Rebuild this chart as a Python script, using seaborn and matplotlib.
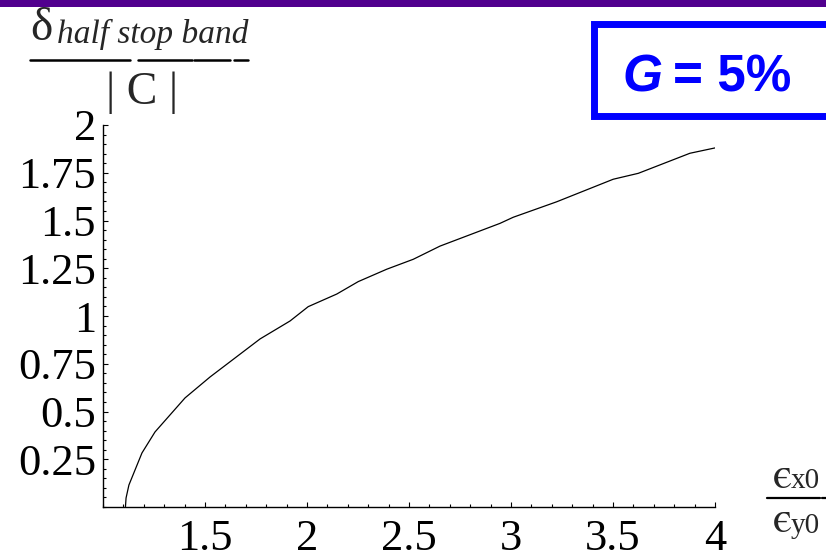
import matplotlib
matplotlib.use("Agg")
import matplotlib.pyplot as plt
from matplotlib.lines import Line2D
from matplotlib.patches import Rectangle
from matplotlib.ticker import FixedLocator, MultipleLocator
import seaborn as sns
import pandas as pd

# emittance ratio vs. normalised half stop band width (G = 5%)
ratio = [1.110, 1.113, 1.127, 1.191, 1.255, 1.402, 1.525, 1.770, 1.917, 2.006,
         2.146, 2.251, 2.391, 2.521, 2.652, 2.783, 2.946, 3.011, 3.224, 3.501,
         3.624, 3.877, 4.000]
half_band = [0.000, 0.047, 0.115, 0.283, 0.393, 0.571, 0.681, 0.880, 0.974, 1.049,
             1.115, 1.180, 1.245, 1.297, 1.366, 1.419, 1.485, 1.517, 1.598, 1.716,
             1.747, 1.852, 1.880]

x_ticks = [1.5, 2, 2.5, 3, 3.5, 4]
x_tick_labels = ["1.5", "2", "2.5", "3", "3.5", "4"]
y_ticks = [0.25, 0.5, 0.75, 1, 1.25, 1.5, 1.75, 2]
y_tick_labels = ["0.25", "0.5", "0.75", "1", "1.25", "1.5", "1.75", "2"]

df = pd.DataFrame({"ratio": ratio, "half_band": half_band})

sns.set_theme(style="ticks")
plt.rcParams["font.family"] = ["Liberation Serif", "STIXGeneral", "DejaVu Serif"]
plt.rcParams["mathtext.fontset"] = "stix"

W, H = 826, 559
fig = plt.figure(figsize=(W / 100, H / 100), dpi=100)


def px(x, y):
    # pixel position (from top-left) -> figure fraction
    return x / W, 1 - y / H


ax = fig.add_axes([103 / W, 52 / H, 612 / W, 382 / H])
sns.lineplot(data=df, x="ratio", y="half_band", ax=ax, color="black",
             linewidth=0.9, estimator=None, sort=False)

ax.set_xlim(1, 4)
ax.set_ylim(0, 2)
ax.set_xlabel("")
ax.set_ylabel("")
ax.xaxis.set_major_locator(FixedLocator(x_ticks))
ax.set_xticklabels(x_tick_labels)
ax.yaxis.set_major_locator(FixedLocator(y_ticks))
ax.set_yticklabels(y_tick_labels)
ax.xaxis.set_minor_locator(MultipleLocator(0.1))
ax.yaxis.set_minor_locator(MultipleLocator(0.05))

for s in ["top", "right"]:
    ax.spines[s].set_visible(False)
for s in ["left", "bottom"]:
    ax.spines[s].set_linewidth(1.0)
    ax.spines[s].set_color("black")

ax.tick_params(axis="both", which="both", direction="in", width=0.8,
               colors="black", labelsize=32)
ax.tick_params(axis="both", which="major", length=3.5)
ax.tick_params(axis="both", which="minor", length=2.5)
ax.tick_params(axis="x", which="major", pad=8.5)
ax.tick_params(axis="y", which="major", pad=5)
ax.set_facecolor("white")

# purple band along the top
fig.patches.append(Rectangle(px(0, 7), 1, 7 / H, transform=fig.transFigure,
                             facecolor="#51008e", edgecolor="none", zorder=0))

# blue framed box
bx, by = px(593.5, 115.5)
fig.patches.append(Rectangle((bx, by), 0.4, 92 / H, transform=fig.transFigure,
                             facecolor="white", edgecolor="#0000ff",
                             linewidth=5, zorder=1))
fig.text(*px(622, 92), "G", color="#0000ff", fontsize=37, fontweight="bold",
         fontstyle="italic", family="Liberation Sans", ha="left", va="baseline")
fig.text(*px(673, 92), "= 5%", color="#0000ff", fontsize=37, fontweight="bold",
         family="Liberation Sans", ha="left", va="baseline")

# y axis label: delta_half stop band / |C|
fig.text(*px(30, 40), "\u03b4", fontsize=34, ha="left", va="baseline")
fig.text(*px(57, 43), "half stop band", fontsize=24, fontstyle="italic",
         ha="left", va="baseline")
for x0, x1 in [(30, 130), (138, 192), (194, 230), (234, 248)]:
    fig.lines.append(Line2D([x0 / W, x1 / W], [1 - 60 / H, 1 - 60 / H],
                            transform=fig.transFigure, color="black", linewidth=1.8))
fig.text(*px(142, 104), "| C |", fontsize=33, ha="center", va="baseline")

# x axis label: eps_x0 / eps_y0
fig.text(*px(773, 488), "\u03f5", fontsize=32, ha="left", va="baseline",
         family="STIXGeneral")
fig.text(*px(791, 488), "x0", fontsize=21, ha="left", va="baseline")
for x0, x1 in [(767, 820), (822, 826)]:
    fig.lines.append(Line2D([x0 / W, x1 / W], [1 - 498 / H, 1 - 498 / H],
                            transform=fig.transFigure, color="black", linewidth=1.6))
fig.text(*px(773, 532), "\u03f5", fontsize=32, ha="left", va="baseline",
         family="STIXGeneral")
fig.text(*px(791, 533), "y0", fontsize=21, ha="left", va="baseline")

fig.savefig("out.png", dpi=100, facecolor="white")
